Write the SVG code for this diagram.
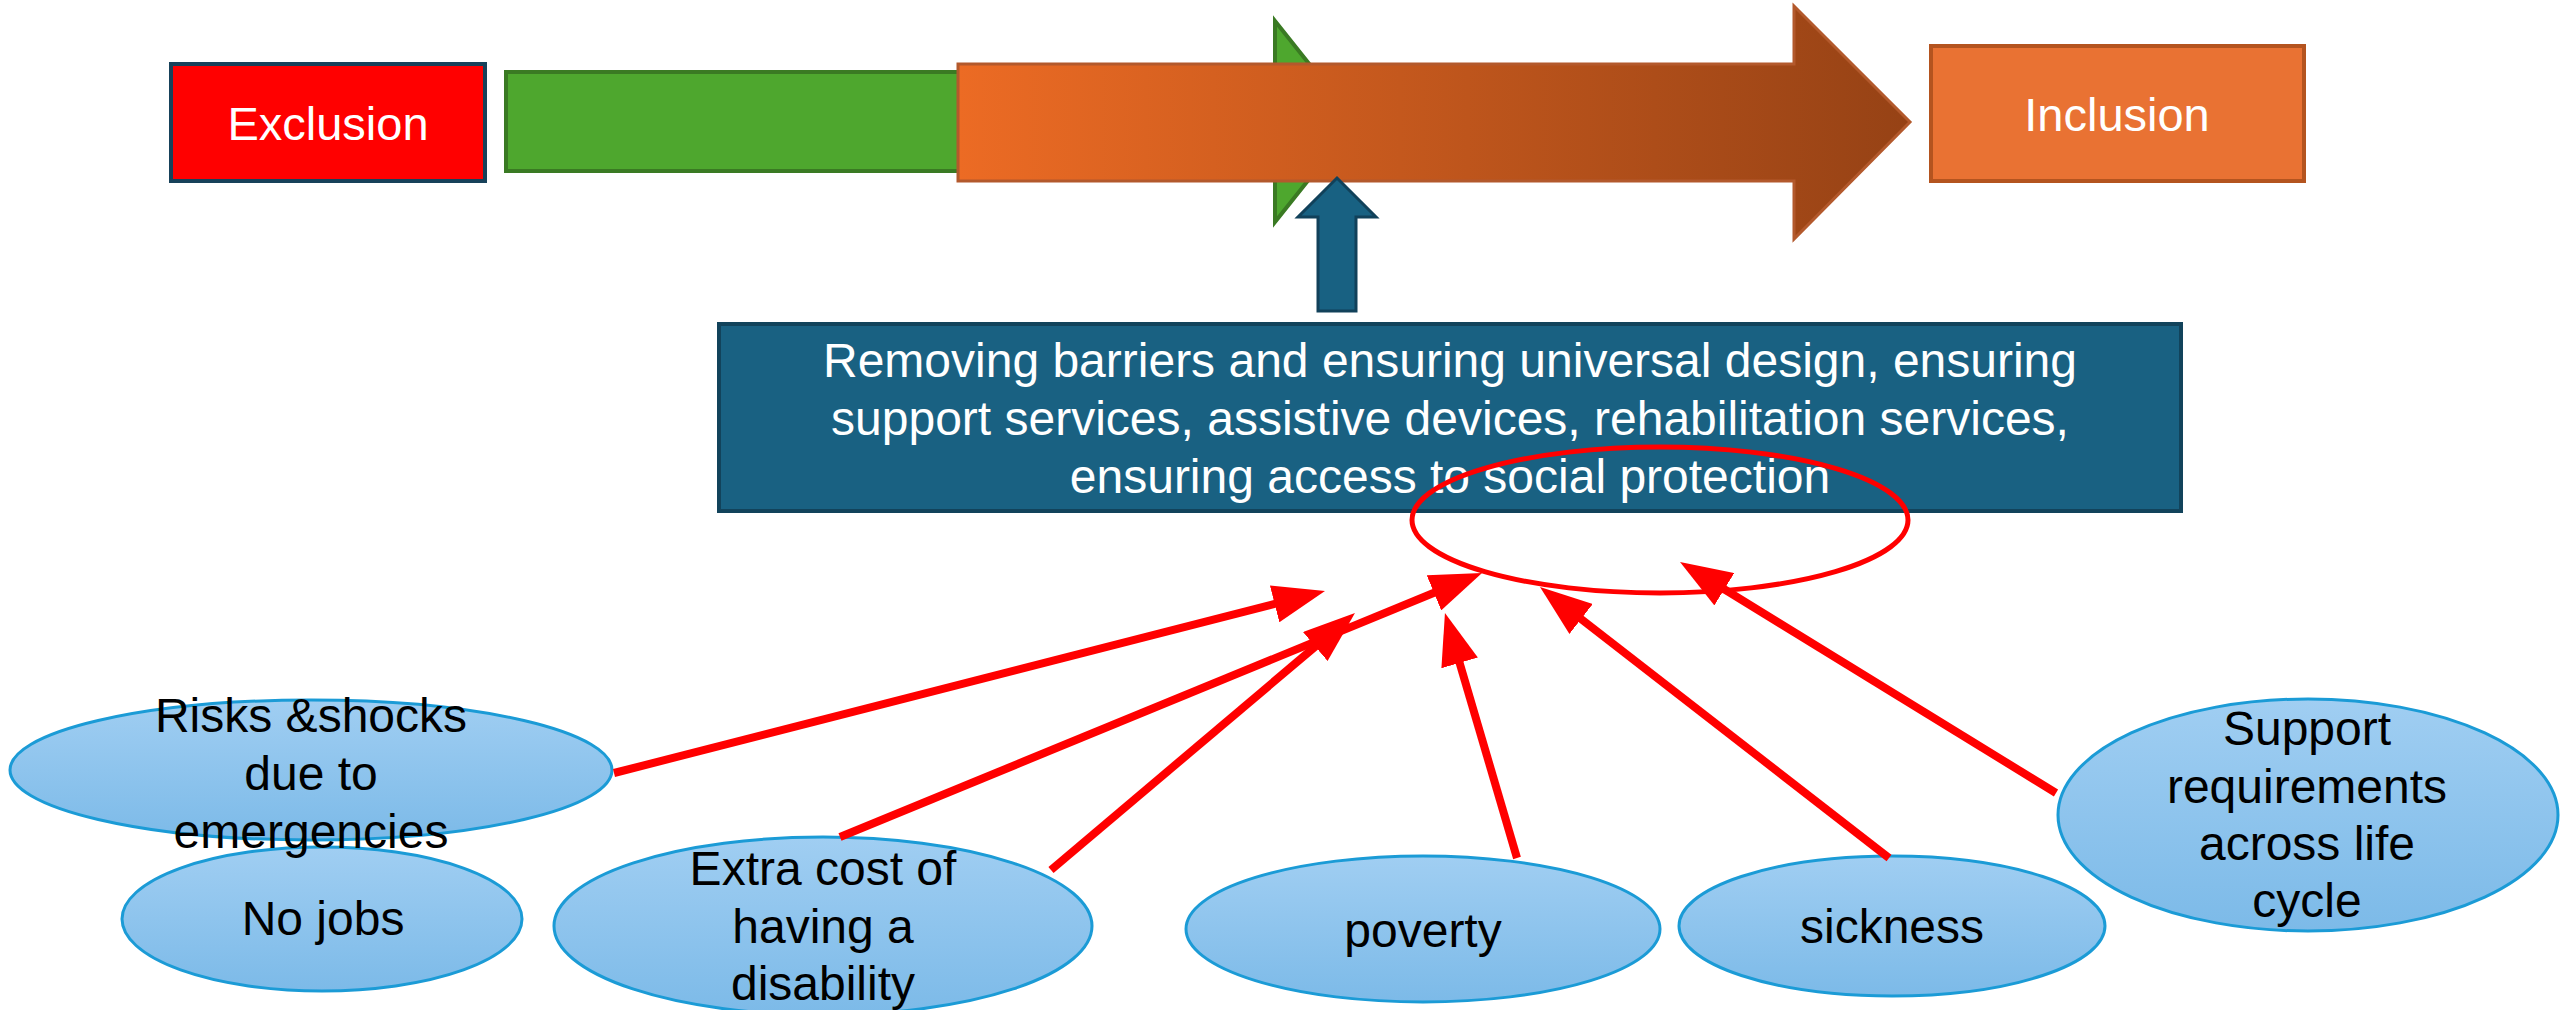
<svg xmlns="http://www.w3.org/2000/svg" width="2560" height="1010" viewBox="0 0 2560 1010">
<defs>
<style>
.lbl{font-family:"Liberation Sans",Arial,sans-serif;text-anchor:middle}
.w{fill:#FFFFFF}
.k{fill:#000000}
.node{fill:url(#nodeGrad);stroke:#1B9BD6;stroke-width:3}
.conn{stroke:#FF0000;stroke-width:8;fill:none;marker-end:url(#head)}
</style>
<linearGradient id="nodeGrad" x1="0" y1="0" x2="0" y2="1">
<stop offset="0" stop-color="#A0CEF2"/>
<stop offset="1" stop-color="#7CBAE8"/>
</linearGradient>
<linearGradient id="orangeGrad" x1="958" y1="0" x2="1910" y2="0" gradientUnits="userSpaceOnUse">
<stop offset="0" stop-color="#EC6B24"/>
<stop offset="1" stop-color="#964215"/>
</linearGradient>
<marker id="head" viewBox="0 0 52 38" refX="10" refY="19" markerWidth="52" markerHeight="38" markerUnits="userSpaceOnUse" orient="auto">
<path d="M0,0 L52,19 L0,38 Z" fill="#FF0000"/>
</marker>
</defs>
<rect width="2560" height="1010" fill="#FFFFFF"/>

<g id="exclusion">
<rect x="171" y="64" width="314" height="117" fill="#FF0000" stroke="#17415A" stroke-width="4"/>
<text class="lbl w" x="328" y="140" font-size="47">Exclusion</text>
</g>

<g id="green-arrow">
<path d="M506,72 L1275,72 L1275,21 L1355,121.5 L1275,222 L1275,171 L506,171 Z" fill="#4EA72E" stroke="#3A7A23" stroke-width="4" stroke-linejoin="miter"/>
</g>

<g id="orange-arrow">
<path d="M958,64 L1794,64 L1794,6 L1910,122 L1794,239 L1794,181 L958,181 Z" fill="url(#orangeGrad)" stroke="#B3592C" stroke-width="3"/>
</g>

<g id="inclusion">
<rect x="1931" y="46" width="373" height="135" fill="#E97233" stroke="#B4541F" stroke-width="4"/>
<text class="lbl w" x="2117" y="131" font-size="47">Inclusion</text>
</g>

<g id="up-arrow">
<path d="M1318,311 L1318,217 L1298,217 L1337,178 L1376,217 L1356,217 L1356,311 Z" fill="#186182" stroke="#11415A" stroke-width="3"/>
</g>

<g id="measures">
<rect x="719" y="324" width="1462" height="187" fill="#196182" stroke="#12435B" stroke-width="4"/>
<text class="lbl w" x="1450" y="377" font-size="48">Removing barriers and ensuring universal design, ensuring</text>
<text class="lbl w" x="1450" y="435" font-size="48">support services, assistive devices, rehabilitation services,</text>
<text class="lbl w" x="1450" y="493" font-size="48">ensuring access to social protection</text>
</g>

<g id="focus-ellipse">
<ellipse cx="1660" cy="520" rx="248" ry="73" fill="none" stroke="#FF0000" stroke-width="5"/>
</g>

<g id="no-jobs">
<ellipse class="node" cx="322" cy="919" rx="200" ry="72"/>
<text class="lbl k" x="323" y="935" font-size="48">No jobs</text>
</g>

<g id="risks">
<ellipse class="node" cx="311" cy="770" rx="301" ry="70"/>
<text class="lbl k" x="311" y="732" font-size="48">Risks &amp;shocks</text>
<text class="lbl k" x="311" y="790" font-size="48">due to</text>
<text class="lbl k" x="311" y="848" font-size="48">emergencies</text>
</g>

<g id="extra-cost">
<ellipse class="node" cx="823" cy="926" rx="269" ry="89"/>
<text class="lbl k" x="823" y="885" font-size="48">Extra cost of</text>
<text class="lbl k" x="823" y="943" font-size="48">having a</text>
<text class="lbl k" x="823" y="1000" font-size="48">disability</text>
</g>

<g id="poverty">
<ellipse class="node" cx="1423" cy="929" rx="237" ry="73"/>
<text class="lbl k" x="1423" y="947" font-size="48">poverty</text>
</g>

<g id="sickness">
<ellipse class="node" cx="1892" cy="926" rx="213" ry="70"/>
<text class="lbl k" x="1892" y="943" font-size="48">sickness</text>
</g>

<g id="support">
<ellipse class="node" cx="2308" cy="815" rx="250" ry="116"/>
<text class="lbl k" x="2307" y="745" font-size="48">Support</text>
<text class="lbl k" x="2307" y="803" font-size="48">requirements</text>
<text class="lbl k" x="2307" y="860" font-size="48">across life</text>
<text class="lbl k" x="2307" y="917" font-size="48">cycle</text>
</g>

<g id="connectors">
<line class="conn" x1="614" y1="773" x2="1284.3" y2="601.4"/>
<line class="conn" x1="840" y1="837" x2="1443.2" y2="589"/>
<line class="conn" x1="1051" y1="870" x2="1322.9" y2="640.1"/>
<line class="conn" x1="1517" y1="858" x2="1456.8" y2="653.3"/>
<line class="conn" x1="1889" y1="858" x2="1573.2" y2="612.8"/>
<line class="conn" x1="2056" y1="793" x2="1715.8" y2="584"/>
</g>
</svg>
